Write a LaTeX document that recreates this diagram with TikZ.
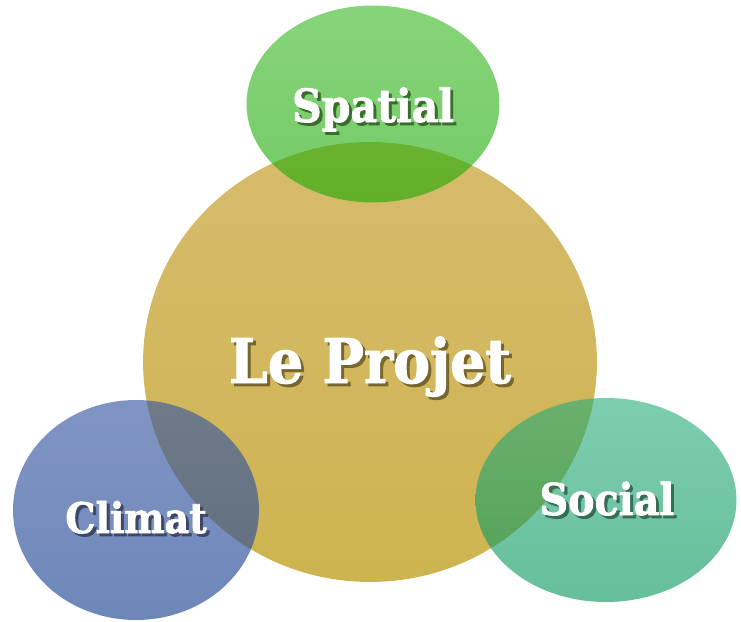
\documentclass[tikz,border=0pt]{standalone}
\usepackage{fontspec}
\newfontfamily\labelfont[FakeStretch=0.9, FakeBold=1.6]{DejaVu Serif Bold}
\usetikzlibrary{shapes.geometric, calc}
\definecolor{projettop}{RGB}{214,187,108}
\definecolor{projetbot}{RGB}{206,180,80}
\definecolor{spatialtop}{RGB}{55,183,33}
\definecolor{spatialbot}{RGB}{22,168,0}
\definecolor{climattop}{RGB}{60,91,163}
\definecolor{climatbot}{RGB}{32,71,148}
\definecolor{socialtop}{RGB}{38,172,122}
\definecolor{socialbot}{RGB}{0,147,88}
% shadow tints of the text, one per background
\definecolor{projetshade}{RGB}{120,102,48}
\definecolor{spatialshade}{RGB}{58,108,45}
\definecolor{climatshade}{RGB}{62,72,102}
\definecolor{socialshade}{RGB}{52,110,88}
\newcommand\shadowed[2]{\rlap{\kern1.7pt\raisebox{-1.7pt}{\textcolor{#1}{#2}}}#2}

\begin{document}
\begin{tikzpicture}[
    x=0.02cm, y=-0.02cm,
    blob/.style={ellipse, inner sep=0pt},
    sat/.style={blob, fill opacity=0.6},
    word/.style={text=white, anchor=base, inner sep=0pt, font=\labelfont\fontsize{#1}{#1}\selectfont}
]
\useasboundingbox (0,0) rectangle (741,622);

% Shapes
\node [blob, top color=projettop, bottom color=projetbot, minimum width=9.08cm, minimum height=8.8cm] (projet) at (370,362) {};
\node [sat, top color=spatialtop, bottom color=spatialbot, minimum width=5.06cm, minimum height=3.94cm] (spatial) at (373,104) {};
\node [sat, fill opacity=0.65, top color=climattop, bottom color=climatbot, minimum width=4.92cm, minimum height=4.4cm] (climat) at (136,510) {};
\node [sat, top color=socialtop, bottom color=socialbot, minimum width=5.22cm, minimum height=4.08cm] (social) at (606,500) {};

% Labels
\node [word=35] (projetlbl) at ($(projet.center)+(0,21)$) {\shadowed{projetshade}{Le Projet}};
\node [word=26] (spatiallbl) at ($(spatial.center)+(0,18)$) {\shadowed{spatialshade}{Spatial}};
\node [word=24] (climatlbl) at ($(climat.center)+(0,23)$) {\shadowed{climatshade}{Climat}};
\node [word=25] (sociallbl) at ($(social.center)+(1,15)$) {\shadowed{socialshade}{Social}};

\end{tikzpicture}
\end{document}
